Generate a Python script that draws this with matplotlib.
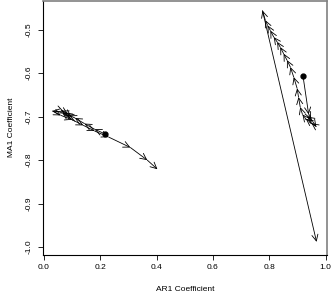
import numpy as np
import matplotlib.pyplot as plt

plt.rcParams["font.family"] = ["Liberation Sans", "DejaVu Sans"]

# Pfad 1 (links), Startpunkt zuerst
ar_links = np.array([0.218, 0.180, 0.144, 0.110, 0.090, 0.075, 0.062, 0.070, 0.085,
                     0.097, 0.080, 0.065, 0.030, 0.060, 0.100, 0.140, 0.180, 0.230,
                     0.307, 0.367, 0.403])
ma_links = np.array([-0.740, -0.729, -0.716, -0.703, -0.697, -0.690, -0.686, -0.688, -0.694,
                     -0.700, -0.697, -0.690, -0.687, -0.697, -0.707, -0.720, -0.733, -0.747,
                     -0.771, -0.800, -0.821])

# Pfad 2 (rechts)
ar_rechts = np.array([0.920, 0.940, 0.948, 0.935, 0.955, 0.967, 0.950, 0.930, 0.918,
                      0.910, 0.904, 0.899, 0.887, 0.875, 0.863, 0.851, 0.839, 0.828,
                      0.816, 0.804, 0.794, 0.786, 0.776, 0.968])
ma_rechts = np.array([-0.607, -0.695, -0.706, -0.700, -0.712, -0.723, -0.715, -0.705, -0.695,
                      -0.678, -0.655, -0.635, -0.609, -0.586, -0.570, -0.555, -0.540, -0.528,
                      -0.517, -0.502, -0.490, -0.478, -0.456, -0.988])

fig = plt.figure(figsize=(3.31, 2.94), dpi=100)
ax = fig.add_axes([0.131, 0.133, 0.856, 0.865])

for xs, ys in [(ar_links, ma_links), (ar_rechts, ma_rechts)]:
    for i in range(len(xs) - 1):
        ax.annotate("", xy=(xs[i+1], ys[i+1]), xytext=(xs[i], ys[i]),
                    arrowprops=dict(arrowstyle="->,head_length=0.45,head_width=0.22",
                                    lw=0.6, color="black", shrinkA=0, shrinkB=0))
    ax.plot(xs[0], ys[0], "o", color="black", markersize=3.5)

ax.set_xlim(-0.002, 1.004)
ax.set_ylim(-1.018, -0.433)
ax.set_xticks([0.0, 0.2, 0.4, 0.6, 0.8, 1.0])
ax.set_yticks([-1.0, -0.9, -0.8, -0.7, -0.6, -0.5])
ax.set_xticklabels(["0.0", "0.2", "0.4", "0.6", "0.8", "1.0"])
ax.set_yticklabels(["-1.0", "-0.9", "-0.8", "-0.7", "-0.6", "-0.5"],
                   rotation=90, va="center")
ax.tick_params(labelsize=6, length=3.5, width=0.6)
ax.tick_params(axis="y", pad=4)
ax.tick_params(axis="x", pad=3)
ax.set_xlabel("AR1 Coefficient", fontsize=6, labelpad=11)
ax.set_ylabel("MA1 Coefficient", fontsize=6, labelpad=8)
for s in ["left", "bottom"]:
    ax.spines[s].set_linewidth(0.8)
for s in ["top", "right"]:
    ax.spines[s].set_color("grey")
    ax.spines[s].set_linewidth(1.2)

fig.savefig("out.png", dpi=100)
